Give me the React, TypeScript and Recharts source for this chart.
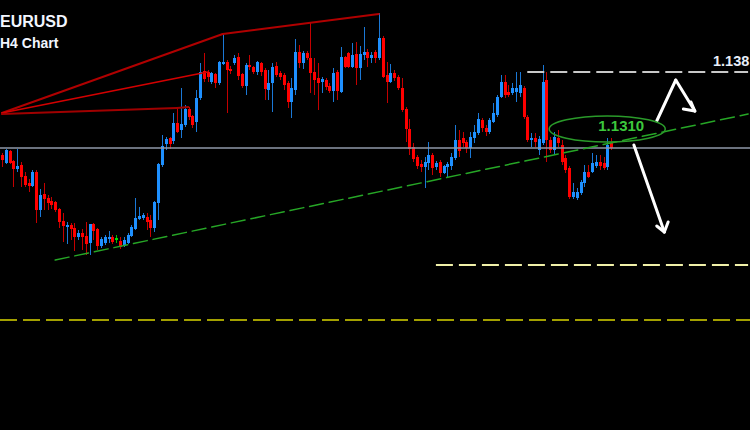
import { ComposedChart, Bar, XAxis, YAxis, ReferenceLine, ReferenceDot } from 'recharts';

// EURUSD H4 candles (price)
const opens = [
  1.1303, 1.1295, 1.1307, 1.1297, 1.1289, 1.1293, 1.1282, 1.1275, 1.1272, 1.1286,
  1.1248, 1.1264, 1.1260, 1.1257, 1.1256, 1.1249, 1.1237, 1.1231, 1.1233, 1.1230,
  1.1221, 1.1225, 1.1222, 1.1215, 1.1234, 1.1229, 1.1212, 1.1215, 1.1219, 1.1221,
  1.1219, 1.1217, 1.1212, 1.1215, 1.1222, 1.1229, 1.1239, 1.1240, 1.1241, 1.1238,
  1.1230, 1.1255, 1.1293, 1.1314, 1.1320, 1.1317, 1.1335, 1.1328, 1.1333, 1.1349,
  1.1342, 1.1336, 1.1360, 1.1387, 1.1386, 1.1376, 1.1384, 1.1375, 1.1394, 1.1396,
  1.1389, 1.1395, 1.1401, 1.1384, 1.1372, 1.1393, 1.1391, 1.1386, 1.1395, 1.1388,
  1.1368, 1.1375, 1.1392, 1.1385, 1.1383, 1.1375, 1.1356, 1.1368, 1.1406, 1.1395,
  1.1405, 1.1400, 1.1386, 1.1380, 1.1376, 1.1378, 1.1372, 1.1367, 1.1386, 1.1366,
  1.1401, 1.1405, 1.1391, 1.1404, 1.1390, 1.1403, 1.1406, 1.1400, 1.1406, 1.1400,
  1.1420, 1.1383, 1.1376, 1.1385, 1.1381, 1.1370, 1.1349, 1.1329, 1.1311, 1.1301,
  1.1294, 1.1291, 1.1295, 1.1303, 1.1291, 1.1296, 1.1285, 1.1291, 1.1292, 1.1300,
  1.1318, 1.1320, 1.1316, 1.1310, 1.1320, 1.1325, 1.1338, 1.1330, 1.1326, 1.1336,
  1.1343, 1.1361, 1.1376, 1.1366, 1.1365, 1.1366, 1.1365, 1.1370, 1.1341, 1.1318,
  1.1320, 1.1308, 1.1315, 1.1378, 1.1318, 1.1308, 1.1320, 1.1313, 1.1300, 1.1290,
  1.1261, 1.1260, 1.1265, 1.1275, 1.1286, 1.1286, 1.1292, 1.1296, 1.1295, 1.1291,
  1.1315,
];
const highs = [
  1.1305, 1.1309, 1.1308, 1.1298, 1.1309, 1.1296, 1.1286, 1.1279, 1.1288, 1.1288,
  1.1269, 1.1275, 1.1263, 1.1261, 1.1257, 1.1250, 1.1245, 1.1236, 1.1235, 1.1235,
  1.1228, 1.1229, 1.1236, 1.1234, 1.1235, 1.1230, 1.1221, 1.1223, 1.1227, 1.1223,
  1.1223, 1.1221, 1.1221, 1.1225, 1.1233, 1.1260, 1.1251, 1.1245, 1.1245, 1.1243,
  1.1257, 1.1295, 1.1323, 1.1321, 1.1321, 1.1345, 1.1350, 1.1370, 1.1353, 1.1351,
  1.1343, 1.1368, 1.1395, 1.1405, 1.1388, 1.1386, 1.1385, 1.1397, 1.1424, 1.1398,
  1.1392, 1.1403, 1.1405, 1.1385, 1.1395, 1.1403, 1.1392, 1.1397, 1.1396, 1.1390,
  1.1388, 1.1395, 1.1396, 1.1387, 1.1385, 1.1377, 1.1380, 1.1419, 1.1413, 1.1407,
  1.1407, 1.1435, 1.1400, 1.1395, 1.1381, 1.1380, 1.1375, 1.1390, 1.1388, 1.1411,
  1.1402, 1.1406, 1.1415, 1.1416, 1.1412, 1.1431, 1.1409, 1.1406, 1.1408, 1.1445,
  1.1422, 1.1396, 1.1394, 1.1388, 1.1383, 1.1380, 1.1351, 1.1339, 1.1315, 1.1303,
  1.1298, 1.1301, 1.1316, 1.1305, 1.1297, 1.1298, 1.1293, 1.1296, 1.1305, 1.1333,
  1.1328, 1.1326, 1.1318, 1.1326, 1.1333, 1.1345, 1.1340, 1.1333, 1.1340, 1.1355,
  1.1363, 1.1383, 1.1383, 1.1373, 1.1375, 1.1386, 1.1386, 1.1372, 1.1343, 1.1325,
  1.1325, 1.1322, 1.1393, 1.1386, 1.1321, 1.1326, 1.1328, 1.1318, 1.1303, 1.1292,
  1.1275, 1.1270, 1.1278, 1.1293, 1.1293, 1.1305, 1.1303, 1.1303, 1.1301, 1.1320,
  1.1320,
];
const lows = [
  1.1291, 1.1294, 1.1294, 1.1271, 1.1286, 1.1271, 1.1271, 1.1266, 1.1271, 1.1235,
  1.1241, 1.1248, 1.1248, 1.1249, 1.1246, 1.1230, 1.1216, 1.1214, 1.1218, 1.1207,
  1.1218, 1.1208, 1.1203, 1.1203, 1.1218, 1.1208, 1.1210, 1.1213, 1.1215, 1.1214,
  1.1215, 1.1209, 1.1211, 1.1214, 1.1221, 1.1228, 1.1238, 1.1238, 1.1228, 1.1221,
  1.1226, 1.1238, 1.1291, 1.1308, 1.1309, 1.1314, 1.1325, 1.1320, 1.1331, 1.1338,
  1.1330, 1.1326, 1.1358, 1.1376, 1.1376, 1.1374, 1.1370, 1.1373, 1.1393, 1.1345,
  1.1384, 1.1393, 1.1378, 1.1370, 1.1363, 1.1388, 1.1384, 1.1383, 1.1382, 1.1358,
  1.1358, 1.1346, 1.1381, 1.1378, 1.1368, 1.1350, 1.1340, 1.1363, 1.1390, 1.1389,
  1.1398, 1.1365, 1.1363, 1.1348, 1.1365, 1.1368, 1.1365, 1.1356, 1.1358, 1.1365,
  1.1390, 1.1390, 1.1390, 1.1373, 1.1378, 1.1398, 1.1391, 1.1395, 1.1395, 1.1398,
  1.1380, 1.1355, 1.1375, 1.1377, 1.1368, 1.1346, 1.1316, 1.1303, 1.1296, 1.1289,
  1.1286, 1.1270, 1.1288, 1.1283, 1.1288, 1.1281, 1.1284, 1.1281, 1.1288, 1.1298,
  1.1301, 1.1311, 1.1305, 1.1300, 1.1315, 1.1323, 1.1326, 1.1322, 1.1324, 1.1335,
  1.1341, 1.1360, 1.1360, 1.1361, 1.1363, 1.1356, 1.1361, 1.1339, 1.1316, 1.1311,
  1.1311, 1.1303, 1.1313, 1.1296, 1.1305, 1.1303, 1.1311, 1.1293, 1.1285, 1.1259,
  1.1259, 1.1258, 1.1263, 1.1271, 1.1280, 1.1285, 1.1290, 1.1288, 1.1288, 1.1288,
  1.1308,
];
const closes = [
  1.1298, 1.1308, 1.1295, 1.1289, 1.1292, 1.1281, 1.1273, 1.1272, 1.1286, 1.1248,
  1.1263, 1.1259, 1.1255, 1.1253, 1.1248, 1.1236, 1.1232, 1.1233, 1.1229, 1.1221,
  1.1225, 1.1221, 1.1214, 1.1234, 1.1227, 1.1212, 1.1219, 1.1221, 1.1221, 1.1216,
  1.1219, 1.1211, 1.1218, 1.1223, 1.1231, 1.1240, 1.1242, 1.1243, 1.1236, 1.1230,
  1.1256, 1.1294, 1.1312, 1.1319, 1.1314, 1.1335, 1.1326, 1.1334, 1.1349, 1.1341,
  1.1333, 1.1360, 1.1386, 1.1379, 1.1381, 1.1385, 1.1375, 1.1396, 1.1396, 1.1388,
  1.1387, 1.1400, 1.1382, 1.1372, 1.1393, 1.1391, 1.1386, 1.1396, 1.1386, 1.1369,
  1.1375, 1.1391, 1.1383, 1.1381, 1.1373, 1.1356, 1.1370, 1.1406, 1.1395, 1.1405,
  1.1400, 1.1385, 1.1378, 1.1375, 1.1379, 1.1371, 1.1367, 1.1385, 1.1367, 1.1401,
  1.1391, 1.1391, 1.1403, 1.1390, 1.1404, 1.1406, 1.1400, 1.1403, 1.1400, 1.1420,
  1.1381, 1.1376, 1.1385, 1.1380, 1.1370, 1.1348, 1.1329, 1.1309, 1.1299, 1.1292,
  1.1291, 1.1296, 1.1303, 1.1290, 1.1295, 1.1285, 1.1292, 1.1294, 1.1301, 1.1318,
  1.1307, 1.1315, 1.1310, 1.1321, 1.1326, 1.1339, 1.1330, 1.1326, 1.1338, 1.1345,
  1.1361, 1.1376, 1.1363, 1.1363, 1.1370, 1.1370, 1.1373, 1.1341, 1.1318, 1.1320,
  1.1316, 1.1319, 1.1376, 1.1318, 1.1308, 1.1321, 1.1315, 1.1296, 1.1288, 1.1261,
  1.1266, 1.1266, 1.1276, 1.1286, 1.1281, 1.1295, 1.1296, 1.1292, 1.1290, 1.1313,
  1.1310,
];

// drawn levels and trendlines: x = candle slot, y = price
const redLineA = [{ x: 0, y: 1.1345 }, { x: 58, y: 1.1424 }, { x: 99, y: 1.1444 }];
const redLineB = [{ x: 0, y: 1.1345 }, { x: 54, y: 1.1386 }];
const redLineC = [{ x: 0, y: 1.1344 }, { x: 46, y: 1.1350 }, { x: 49, y: 1.1351 }];
const greenTrend = [{ x: 14, y: 1.1198 }, { x: 196, y: 1.1344 }];
const arrowUp = [{ x: 172, y: 1.1337 }, { x: 177, y: 1.1378 }, { x: 182, y: 1.1347 }];
const arrowUpHead = [{ x: 179, y: 1.1349 }, { x: 182, y: 1.1347 }, { x: 181, y: 1.1356 }];
const arrowDown = [{ x: 166, y: 1.1313 }, { x: 174, y: 1.1226 }];
const arrowDownHead = [{ x: 172, y: 1.1232 }, { x: 174, y: 1.1226 }, { x: 175, y: 1.1236 }];
const pivotLevel = 1.131;
const resistLevel = 1.1386;
const supportLevel = 1.1193;
const lowLevel = 1.1138;
const circled = { x: 159, y: 1.1329, label: '1.1310' };

const SLOTS = 197; // empty slots on the right side

const data = Array.from({ length: SLOTS }, (_, i) =>
  i < opens.length
    ? { i, open: opens[i], high: highs[i], low: lows[i], close: closes[i], range: [lows[i], highs[i]] }
    : { i }
);

const Candle = (props: any) => {
  const { x, y, width, height, payload } = props;
  if (!payload || payload.high == null) return <g />;
  const { open, close, high, low } = payload;
  const top = Math.min(y, y + height);
  const bottom = Math.max(y, y + height);
  const toY = (p: number) => top + ((high - p) / (high - low)) * (bottom - top);
  const cx = Math.round(x + width / 2);
  const doji = open === close;
  const up = close > open;
  const body = doji ? '#00e000' : up ? '#1e90ff' : '#ff0000';
  const wick = doji ? '#00c000' : up ? '#1a78d6' : '#c40000';
  const yo = toY(open);
  const yc = toY(close);
  const bTop = doji ? yo - 1 : Math.min(yo, yc);
  const bH = doji ? 2 : Math.max(Math.abs(yc - yo), 1);
  return (
    <g>
      <line x1={cx + 0.5} x2={cx + 0.5} y1={top} y2={bottom} stroke={wick} strokeWidth={1} />
      <rect x={cx - 1} y={bTop} width={3} height={bH} fill={body} />
    </g>
  );
};

// polyline -> list of ReferenceLine segments
const segs = (pts: { x: number; y: number }[], key: string, stroke: string, w: number, dash?: string) =>
  pts.slice(1).map((p, k) => (
    <ReferenceLine
      key={key + k}
      segment={[pts[k], p]}
      stroke={stroke}
      strokeWidth={w}
      strokeDasharray={dash}
      strokeLinecap="round"
      ifOverflow="visible"
    />
  ));

const Ellipse = (props: any) => (
  <g>
    <ellipse cx={props.cx} cy={props.cy} rx={58} ry={13} fill="none" stroke="#2a9a2a" strokeWidth={1.5} />
    <text
      x={props.cx + 14}
      y={props.cy + 2}
      textAnchor="middle"
      fill="#3cc83c"
      fontSize={15}
      fontWeight="bold"
      fontFamily="'Liberation Sans', Arial, sans-serif"
    >
      {circled.label}
    </text>
  </g>
);

export default function App() {
  const font = "'Liberation Sans', Arial, sans-serif";
  return (
    <div style={{ position: 'absolute', left: 0, top: 0, width: 750, height: 430, background: '#000', overflow: 'hidden' }}>
      <ComposedChart width={750} height={430} data={data} margin={{ top: 0, right: 0, bottom: 0, left: 0 }} barCategoryGap={0}>
        <XAxis dataKey="i" type="category" hide />
        <YAxis type="number" domain={[1.1028, 1.1458]} allowDataOverflow hide />

        <ReferenceLine y={lowLevel} stroke="#a3a000" strokeWidth={2} strokeDasharray="17 6" />
        <ReferenceLine y={pivotLevel} stroke="#8f99a8" strokeWidth={1.5} />
        <ReferenceLine segment={[{ x: 114, y: supportLevel }, { x: 196, y: supportLevel }]} stroke="#f0f0a8" strokeWidth={2} strokeDasharray="17 6" />
        <ReferenceLine segment={[{ x: 138, y: resistLevel }, { x: 196, y: resistLevel }]} stroke="#c8c8c8" strokeWidth={2} strokeDasharray="17 6" />

        {segs(redLineA, 'ra', '#b00000', 2)}
        {segs(redLineB, 'rb', '#d40000', 1.5)}
        {segs(redLineC, 'rc', '#a00000', 2)}
        {segs(greenTrend, 'gt', '#26a626', 1.5, '14 6')}

        <Bar dataKey="range" shape={Candle} isAnimationActive={false} />

        <ReferenceDot x={circled.x} y={circled.y} shape={Ellipse} ifOverflow="visible" />
        {segs(arrowUp, 'au', '#ffffff', 3)}
        {segs(arrowUpHead, 'ah', '#ffffff', 3)}
        {segs(arrowDown, 'ad', '#ffffff', 3)}
        {segs(arrowDownHead, 'dh', '#ffffff', 3)}
      </ComposedChart>
      <svg width={750} height={430} style={{ position: 'absolute', left: 0, top: 0, pointerEvents: 'none' }}>
        <text x={0} y={27} fill="#f2f6ff" fontSize={16} fontWeight="bold" fontFamily={font}>EURUSD</text>
        <text x={0} y={48} fill="#f2f6ff" fontSize={14} fontWeight="bold" fontFamily={font}>H4 Chart</text>
        <text x={713} y={66} fill="#e8eef8" fontSize={14.5} fontWeight="bold" fontFamily={font}>1.138</text>
      </svg>
    </div>
  );
}
